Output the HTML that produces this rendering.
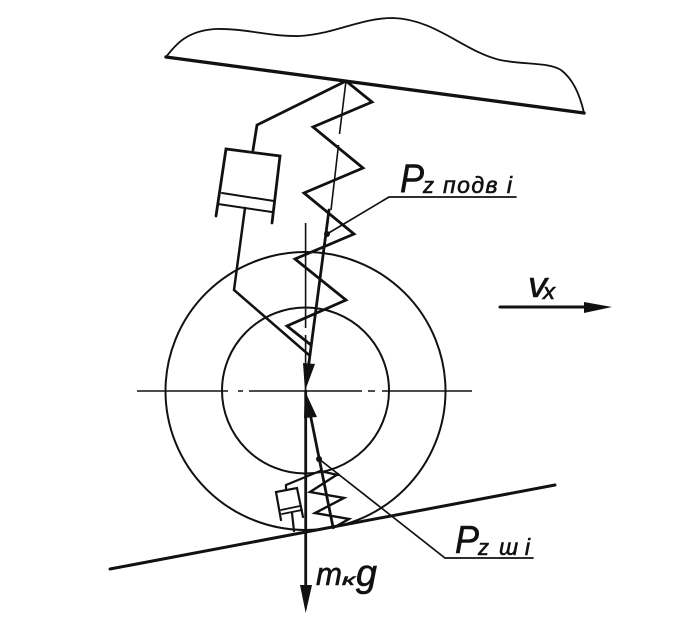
<!DOCTYPE html>
<html>
<head>
<meta charset="utf-8">
<style>
html,body{margin:0;padding:0;background:#fff;width:697px;height:624px;overflow:hidden}
svg{display:block}
text{font-family:"Liberation Sans","DejaVu Sans",sans-serif;font-style:italic;fill:#111;stroke:#111;stroke-width:.6px}
</style>
</head>
<body>
<svg width="697" height="624" viewBox="0 0 697 624" xmlns="http://www.w3.org/2000/svg">
<rect width="697" height="624" fill="#fff"/>
<g fill="none" stroke="#111" stroke-linecap="round" stroke-linejoin="miter">
  <!-- body -->
  <path d="M166 57 C176 44 187 31 215 29 C245 28 270 37 300 36 C335 34 360 18 393 18 C435 19 465 52 500 60 C525 65 548 62 561 70 C573 79 580 95 584 113" stroke-width="1.8"/>
  <path d="M166 57 L584 113" stroke-width="3.4"/>
  <!-- wheels -->
  <ellipse cx="305.5" cy="391" rx="140" ry="139" stroke-width="2"/>
  <ellipse cx="305.5" cy="390.5" rx="83.5" ry="83" stroke-width="2"/>
  <!-- centre lines -->
  <path d="M137 391H228M238 391H243M249 391H362M368 391H375M382 391H472" stroke-width="1.6" stroke-linecap="butt"/>
  <path d="M305.6 223V328M305.6 335V392" stroke-width="1.6" stroke-linecap="butt"/>
  <path d="M346 81L339.500 134M338.500 145L331 210" stroke-width="1.6" stroke-linecap="butt"/>
  <!-- main spring -->
  <path d="M346 81L372 102L313 127L363 168L304 193L354 234L295 259L346 300L287 326L311 345" stroke-width="2.8"/>
  <!-- main damper -->
  <path d="M346 81L257 125L253 150" stroke-width="2.8"/>
  <path d="M216 216L226 149L280 156L272 223" stroke-width="2.8"/>
  <path d="M222 193L274 201M218 204L272 212" stroke-width="2"/>
  <path d="M245 208L234 290L309 355" stroke-width="2.5"/>
  <!-- force lines -->
  <path d="M329 210L308 370" stroke-width="2.8"/>
  <path d="M305.700 391V590" stroke-width="2.8"/>
  <path d="M311 418L333 527" stroke-width="2.8"/>
  <!-- road -->
  <path d="M110 569L555 485" stroke-width="3"/>
  <!-- small spring -->
  <path d="M338 474L310 492L344 498L315 513L349 519L333 528" stroke-width="2.4"/>
  <path d="M338 475L320 471L286 485V489" stroke-width="2.2"/>
  <path d="M281 520L276 492L297 488L303 517" stroke-width="2.2"/>
  <path d="M281 510L300 506M282 514L302 510" stroke-width="1.8"/>
  <path d="M292 513L294 531" stroke-width="2.2"/>
  <!-- leaders -->
  <path d="M327 234L389 197H516" stroke-width="1.7"/>
  <path d="M319 459L445 558H533" stroke-width="1.7"/>
  <!-- velocity -->
  <path d="M500 307H590" stroke-width="3"/>
</g>
<g fill="#111" stroke="none">
  <polygon points="305,391 303,363 315,364"/>
  <polygon points="305,391 304,418 317,417"/>
  <polygon points="300,585 312,585 305.700,613"/>
  <polygon points="584,302 612,307 584,313"/>
  <circle cx="327" cy="234" r="3"/>
  <circle cx="319" cy="459" r="3"/>
</g>
<text x="400" y="192" font-size="40" textLength="24" lengthAdjust="spacingAndGlyphs">P</text>
<text x="423" y="193" font-size="22" textLength="11" lengthAdjust="spacingAndGlyphs">z</text>
<text x="443" y="193" font-size="23" textLength="69" lengthAdjust="spacing">подв i</text>
<text x="528" y="297" font-size="36" textLength="19" lengthAdjust="spacingAndGlyphs">v</text>
<text x="543" y="299" font-size="22" textLength="12" lengthAdjust="spacingAndGlyphs">x</text>
<text x="455" y="553" font-size="39" textLength="24" lengthAdjust="spacingAndGlyphs">P</text>
<text x="478" y="555" font-size="22" textLength="11" lengthAdjust="spacingAndGlyphs">z</text>
<text x="499" y="555" font-size="23" textLength="31" lengthAdjust="spacing">ш i</text>
<text x="316" y="585" font-size="32" textLength="26" lengthAdjust="spacingAndGlyphs">m</text>
<text x="342" y="585" font-size="16" textLength="13" lengthAdjust="spacingAndGlyphs">к</text>
<text x="356" y="586" font-size="38" textLength="21" lengthAdjust="spacingAndGlyphs">g</text>
</svg>
</body>
</html>
